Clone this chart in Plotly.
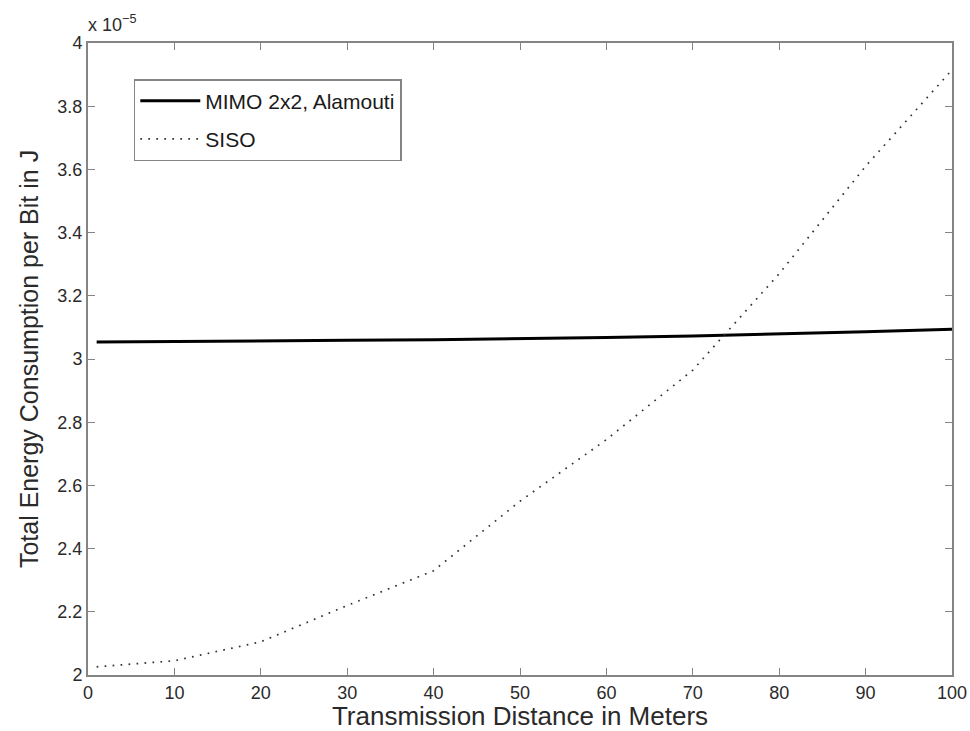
import plotly.graph_objects as go

# Data (energy values in units of 1e-5 J)
distance = [1, 10, 20, 30, 40, 50, 60, 70, 80, 90, 100]
mimo = [3.054, 3.055, 3.057, 3.059, 3.061, 3.064, 3.068, 3.073, 3.079, 3.086, 3.094]
siso = [2.026, 2.045, 2.105, 2.22, 2.33, 2.55, 2.745, 2.965, 3.27, 3.61, 3.915]
x_ticks = [0, 10, 20, 30, 40, 50, 60, 70, 80, 90, 100]
y_ticks = [2, 2.2, 2.4, 2.6, 2.8, 3, 3.2, 3.4, 3.6, 3.8, 4]

font_family = "Liberation Sans, Arial, Helvetica, sans-serif"
text_color = "#2a2a2a"

fig = go.Figure()
fig.add_trace(go.Scatter(
    x=distance, y=mimo, mode="lines", name="MIMO 2x2, Alamouti",
    legendgroup="a",
    line=dict(color="black", width=3),
))
fig.add_trace(go.Scatter(
    x=distance, y=siso, mode="lines", name="SISO",
    legendgroup="b",
    line=dict(color="#333333", width=1.7, dash="1.7px,6.3px"),
))

axis_common = dict(
    showgrid=False, zeroline=False, showline=True, linecolor="#858585",
    linewidth=2, mirror="ticks", ticks="inside", ticklen=7,
    tickcolor="#858585", tickwidth=1, automargin=False,
    tickfont=dict(family=font_family, size=18, color=text_color),
)

fig.update_layout(
    width=970, height=731,
    margin=dict(l=88, r=18, t=43, b=56),
    paper_bgcolor="white", plot_bgcolor="white",
    font=dict(family=font_family, color=text_color),
    showlegend=True,
    legend=dict(
        x=0.053, y=0.943, xanchor="left", yanchor="top",
        bordercolor="#858585", borderwidth=1.5, bgcolor="white",
        font=dict(family=font_family, size=21, color="#1a1a1a"),
        tracegroupgap=8, itemwidth=60,
    ),
    xaxis=dict(
        range=[0, 100], tickvals=x_ticks,
        title=dict(text="Transmission Distance in Meters",
                   font=dict(family=font_family, size=26, color=text_color),
                   standoff=5),
        **axis_common,
    ),
    yaxis=dict(
        range=[2, 4], tickvals=y_ticks,
        ticktext=[f"{v:g}" for v in y_ticks],
        title=dict(text="Total Energy Consumption per Bit in J",
                   font=dict(family=font_family, size=25, color=text_color),
                   standoff=12),
        **axis_common,
    ),
    annotations=[dict(
        xref="paper", yref="paper", x=0.0, y=1.0, xanchor="left", yanchor="bottom",
        text="x 10<sup>\u22125</sup>", showarrow=False, yshift=6, xshift=-2,
        font=dict(family=font_family, size=18, color=text_color),
    )],
)

fig.write_html("out.html")
